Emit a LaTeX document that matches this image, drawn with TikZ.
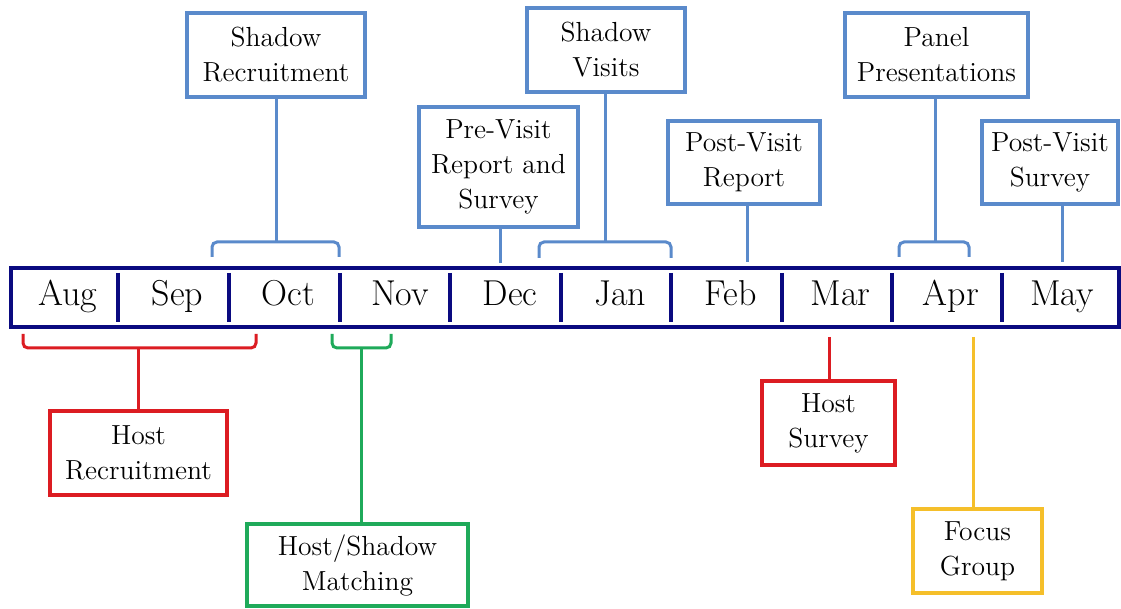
\documentclass[tikz,border=0pt]{standalone}
\usepackage{fontspec}
\definecolor{navy}{HTML}{0A0A80}
\definecolor{boxblue}{HTML}{5A8ACB}
\definecolor{boxred}{HTML}{DC1C22}
\definecolor{boxgreen}{HTML}{1FAA5A}
\definecolor{boxgold}{HTML}{F5BF2A}
\begin{document}
\begin{tikzpicture}[x=0.5pt,y=-0.5pt,
  evbox/.style={draw=#1, line width=1.8pt, align=center, inner sep=0pt,
    font=\fontsize{13.8}{17.5}\selectfont, text=black},
  link/.style={draw=#1, line width=1.5pt, rounded corners=2.5pt},
  month/.style={font=\fontsize{18}{20}\selectfont, anchor=base, inner sep=0pt},
  divider/.style={draw=navy, line width=1.8pt}]
\useasboundingbox (0,0) rectangle (1121,609);

% timeline bar
\node[draw=navy, line width=1.8pt, minimum width=554pt, minimum height=29.5pt, inner sep=0pt] (bar) at (565,297.5) {};
\foreach \x in {118,229,340,450,561,671,782,892,1002}
  \draw[divider] (\x,273) -- (\x,322);
\node[month] (aug) at (68,306) {Aug};
\node[month] (sep) at (177.5,306) {Sep};
\node[month] (oct) at (288.5,306) {Oct};
\node[month] (nov) at (400,306) {Nov};
\node[month] (dec) at (510,306) {Dec};
\node[month] (jan) at (620,306) {Jan};
\node[month] (feb) at (730.5,306) {Feb};
\node[month] (mar) at (840.5,306) {Mar};
\node[month] (apr) at (951,306) {Apr};
\node[month] (may) at (1062,306) {May};

% upper boxes
\node[evbox=boxblue, minimum width=89pt, minimum height=42pt] (sr) at (276,55) {Shadow\\Recruitment};
\node[evbox=boxblue, minimum width=79pt, minimum height=42pt] (sv) at (606,50) {Shadow\\Visits};
\node[evbox=boxblue, minimum width=79.5pt, minimum height=60pt] (pv) at (498.5,167) {Pre-Visit\\Report and\\Survey};
\node[evbox=boxblue, minimum width=76pt, minimum height=41.5pt] (pr) at (744,162.5) {Post-Visit\\Report};
\node[evbox=boxblue, minimum width=91.5pt, minimum height=42pt] (pp) at (936.5,55) {Panel\\Presentations};
\node[evbox=boxblue, minimum width=68pt, minimum height=41.5pt] (ps) at (1050,162.5) {Post-Visit\\Survey};

% lower boxes
\node[evbox=boxred, minimum width=88.5pt, minimum height=42pt] (hr) at (138.5,453) {Host\\Recruitment};
\node[evbox=boxgreen, minimum width=110.5pt, minimum height=41pt] (hm) at (357.5,565) {Host/Shadow\\Matching};
\node[evbox=boxred, minimum width=66.5pt, minimum height=42pt] (hs) at (828.5,423) {Host\\Survey};
\node[evbox=boxgold, minimum width=64.5pt, minimum height=42pt] (fg) at (977.5,551) {Focus\\Group};

% bracket coordinates
\coordinate (srL) at (212,257); \coordinate (srR) at (339,257); \coordinate (srM) at (276,242);
\coordinate (svL) at (539,258); \coordinate (svR) at (671,258); \coordinate (svM) at (605,242);
\coordinate (ppL) at (899,257); \coordinate (ppR) at (969,257); \coordinate (ppM) at (935,242);
\coordinate (hrL) at (23,334);  \coordinate (hrR) at (256,334); \coordinate (hrM) at (138,348);
\coordinate (hmL) at (332,334); \coordinate (hmR) at (391,334); \coordinate (hmM) at (361,348);
\coordinate (pvE) at (500,263); \coordinate (prE) at (747,262); \coordinate (psE) at (1062,262);
\coordinate (hsE) at (829,337); \coordinate (fgE) at (973,337);

% upper connectors
\draw[link=boxblue] (srL) |- (srM) -| (srR);
\draw[link=boxblue] (sr.south) -- (srM);
\draw[link=boxblue] (svL) |- (svM) -| (svR);
\draw[link=boxblue] (sv.south -| svM) -- (svM);
\draw[link=boxblue] (ppL) |- (ppM) -| (ppR);
\draw[link=boxblue] (pp.south -| ppM) -- (ppM);
\draw[link=boxblue] (pv.south -| pvE) -- (pvE);
\draw[link=boxblue] (pr.south -| prE) -- (prE);
\draw[link=boxblue] (ps.south -| psE) -- (psE);

% lower connectors
\draw[link=boxred] (hrL) |- (hrM) -| (hrR);
\draw[link=boxred] (hrM) -- (hr.north -| hrM);
\draw[link=boxgreen] (hmL) |- (hmM) -| (hmR);
\draw[link=boxgreen] (hmM) -- (hm.north -| hmM);
\draw[link=boxred] (hsE) -- (hs.north -| hsE);
\draw[link=boxgold] (fgE) -- (fg.north -| fgE);
\end{tikzpicture}
\end{document}
